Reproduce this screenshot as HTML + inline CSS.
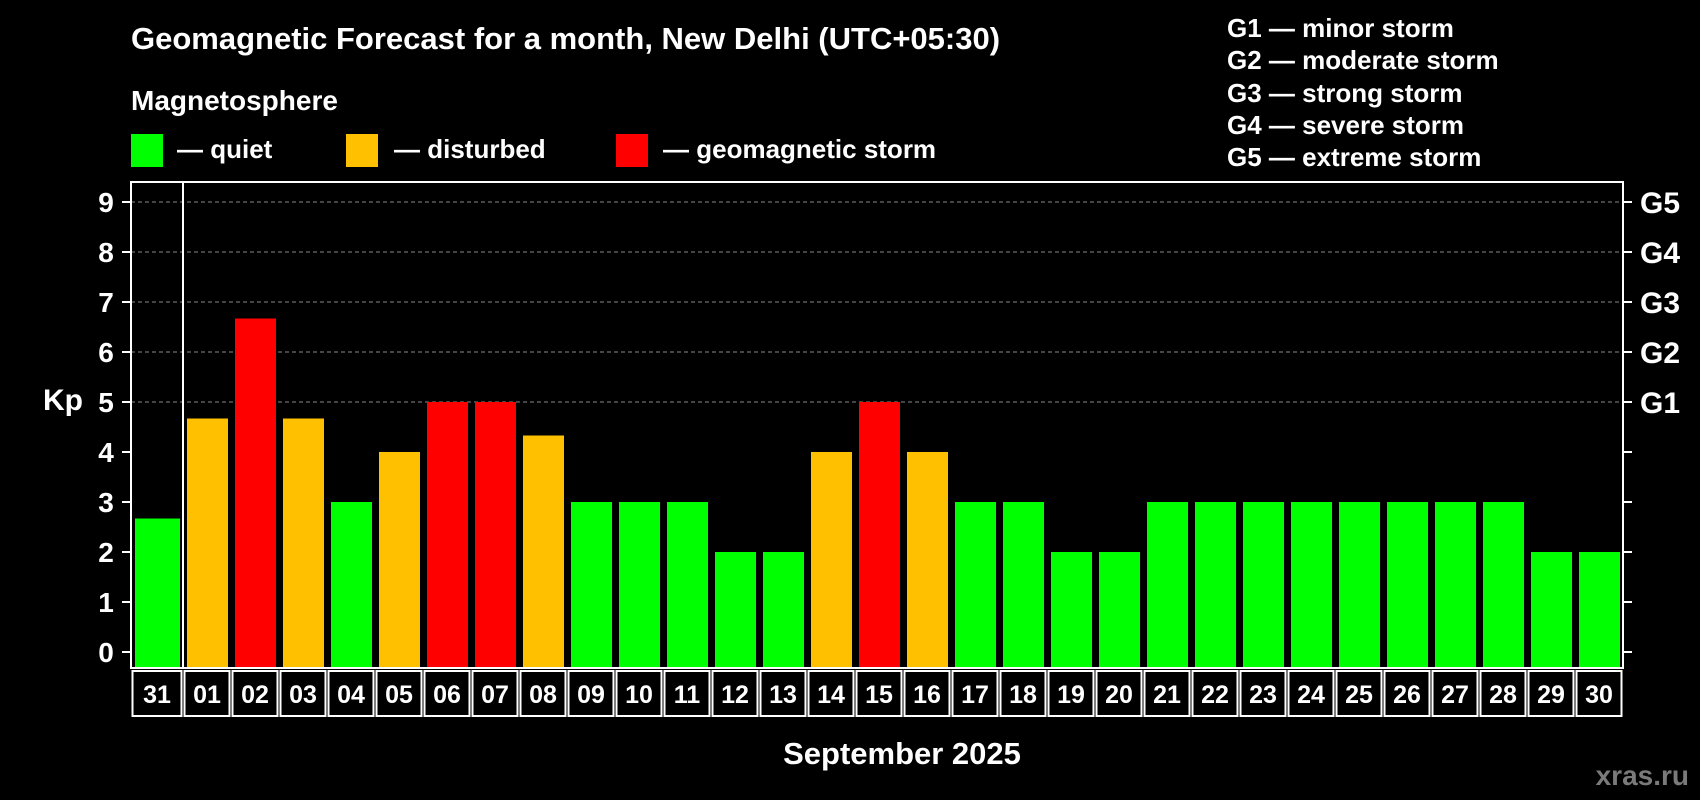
<!DOCTYPE html>
<html><head><meta charset="utf-8"><style>
html,body{margin:0;padding:0;background:#000;}
svg{display:block;font-family:"Liberation Sans",sans-serif;font-weight:bold;}
</style></head><body>
<svg id="chart" width="1700" height="800" viewBox="0 0 1700 800">
<text x="131" y="49" fill="#fff" font-size="31">Geomagnetic Forecast for a month, New Delhi (UTC+05:30)</text>
<text x="131" y="110" fill="#fff" font-size="28">Magnetosphere</text>
<rect x="131" y="134" width="32" height="33" fill="#00ff00"/>
<text x="177" y="158" fill="#fff" font-size="26">— quiet</text>
<rect x="346" y="134" width="32" height="33" fill="#ffc000"/>
<text x="394" y="158" fill="#fff" font-size="26">— disturbed</text>
<rect x="616" y="134" width="32" height="33" fill="#ff0000"/>
<text x="663" y="158" fill="#fff" font-size="26">— geomagnetic storm</text>
<g fill="#fff" font-size="26">
<text x="1227" y="37">G1 — minor storm</text>
<text x="1227" y="69">G2 — moderate storm</text>
<text x="1227" y="102">G3 — strong storm</text>
<text x="1227" y="134">G4 — severe storm</text>
<text x="1227" y="166">G5 — extreme storm</text>
</g>
<text x="63" y="410" fill="#fff" font-size="30" text-anchor="middle">Kp</text>
<text x="902" y="764" fill="#fff" font-size="31" text-anchor="middle">September 2025</text>
<text x="1689" y="785" fill="#7a7a7a" font-size="28" text-anchor="end">xras.ru</text>
<g id="plot"></g>
</svg>
<script>
const days=["31","01","02","03","04","05","06","07","08","09","10","11","12","13","14","15","16","17","18","19","20","21","22","23","24","25","26","27","28","29","30"];
const kpValues=[2.67,4.67,6.67,4.67,3,4,5,5,4.33,3,3,3,2,2,4,5,4,3,3,2,2,3,3,3,3,3,3,3,3,2,2];
const yTicks=[0,1,2,3,4,5,6,7,8,9];
const gLabels=["G1","G2","G3","G4","G5"];
const NS="http://www.w3.org/2000/svg";
const plot=document.getElementById('plot');
const L=131,R=1623,T=182,B=668,SEP=183;
const slotW=(R-SEP)/30;
function y(v){return 652-v*50;}
function slotX(i){return i===0?L:SEP+(i-1)*slotW;}
function slotWidth(i){return i===0?SEP-L:slotW;}
function mk(tag,attrs){const e=document.createElementNS(NS,tag);for(const k in attrs)e.setAttribute(k,attrs[k]);plot.appendChild(e);return e;}
yTicks.forEach(v=>{
  if(v>=5){const g=mk('line',{x1:L,x2:R,y1:y(v),y2:y(v),stroke:'#888','stroke-dasharray':'4,3','stroke-width':1});
  
  }
  const t=mk('line',{x1:L-9,x2:L,y1:y(v),y2:y(v),stroke:'#fff','stroke-width':2});
  
  
  const t2=mk('line',{x1:R,x2:R+9,y1:y(v),y2:y(v),stroke:'#fff','stroke-width':2});
  
  
  const l=mk('text',{x:106,y:y(v)+10,fill:'#fff','font-size':28,'text-anchor':'middle'});
  l.textContent=v;
  
  
});
gLabels.forEach((g,i)=>{
  const l=mk('text',{x:1640,y:y(5+i)+11,fill:'#fff','font-size':30});
  l.textContent=g;
  
  
});
kpValues.forEach((v,i)=>{
  const c=v>=5?'#ff0000':(v>=4?'#ffc000':'#00ff00');
  const x0=slotX(i),w=slotWidth(i);
  const b=mk('rect',{x:x0+4,y:y(v),width:w-7,height:B-y(v),fill:c});
  
  
  const bx=mk('rect',{x:x0+1.5,y:671,width:w-3,height:45,fill:'none',stroke:'#fff','stroke-width':2});
  
  
  const t=mk('text',{x:x0+w/2,y:703,fill:'#fff','font-size':25,'text-anchor':'middle'});
  t.textContent=days[i];
  
  
});
const f=mk('rect',{x:L,y:T,width:R-L,height:B-T,fill:'none',stroke:'#fff','stroke-width':2});


const s=mk('line',{x1:SEP,x2:SEP,y1:T,y2:B,stroke:'#fff','stroke-width':2});


</script>
</body></html>
